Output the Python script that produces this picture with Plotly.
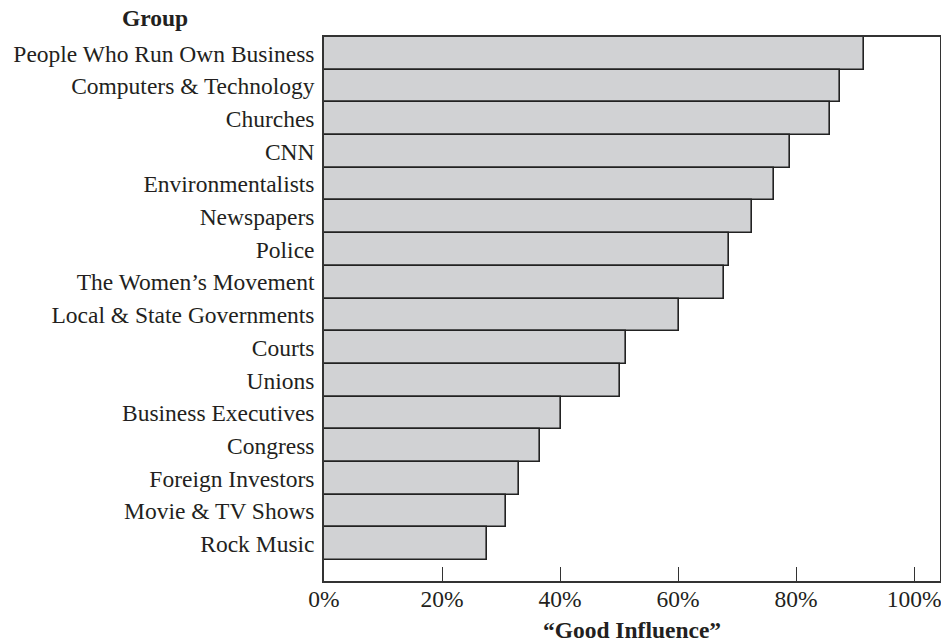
import plotly.graph_objects as go

groups = [
    "People Who Run Own Business",
    "Computers & Technology",
    "Churches",
    "CNN",
    "Environmentalists",
    "Newspapers",
    "Police",
    "The Women\u2019s Movement",
    "Local & State Governments",
    "Courts",
    "Unions",
    "Business Executives",
    "Congress",
    "Foreign Investors",
    "Movie & TV Shows",
    "Rock Music",
]
good_influence = [91.5, 87.5, 85.7, 78.9, 76.2, 72.5, 68.7, 67.8, 60.1, 51.1, 50.1, 40.2, 36.6, 33.0, 30.8, 27.7]
x_ticks = [0, 20, 40, 60, 80, 100]

FONT = "Liberation Serif, Times New Roman, serif"
FS = 23.5

fig = go.Figure(
    go.Bar(
        x=good_influence,
        y=groups,
        orientation="h",
        marker=dict(color="#d1d2d4", line=dict(color="#222222", width=1.6)),
        hoverinfo="x+y",
    )
)

fig.update_layout(
    template="none",
    width=941,
    height=643,
    margin=dict(l=324, r=1, t=37, b=62, autoexpand=False),
    paper_bgcolor="white",
    plot_bgcolor="white",
    bargap=0,
    showlegend=False,
    font=dict(family=FONT, size=FS, color="#231f20"),
    xaxis=dict(
        automargin=False,
        range=[0, 104.4],
        tickvals=x_ticks,
        ticktext=[f"{v}%" for v in x_ticks],
        ticks="inside",
        ticklen=14,
        tickwidth=1.3,
        tickcolor="#333333",
        ticklabeloverflow="allow",
        ticklabelstandoff=-4,
        showline=True,
        linecolor="#333333",
        linewidth=1.6,
        mirror=True,
        showgrid=False,
        zeroline=False,
        tickfont=dict(family=FONT, size=FS),
        title=dict(
            text="<b>\u201cGood Influence\u201d</b>",
            font=dict(family=FONT, size=FS),
            standoff=28,
        ),
    ),
    yaxis=dict(
        automargin=False,
        type="category",
        categoryorder="array",
        categoryarray=groups,
        range=[16.14, -0.5],
        showline=True,
        linecolor="#333333",
        linewidth=1.6,
        mirror=True,
        ticks="",
        showgrid=False,
        zeroline=False,
        ticklabelstandoff=3,
        tickfont=dict(family=FONT, size=FS),
    ),
    annotations=[
        dict(
            text="<b>Group</b>",
            xref="paper",
            yref="paper",
            x=-0.274,
            y=1.0,
            xanchor="center",
            yanchor="middle",
            yshift=19,
            showarrow=False,
            font=dict(family=FONT, size=FS),
        )
    ],
)

fig.write_html(
    "out.html",
    config={"displayModeBar": False},
    post_script="document.body.style.margin='0';document.body.style.overflow='hidden';",
)
